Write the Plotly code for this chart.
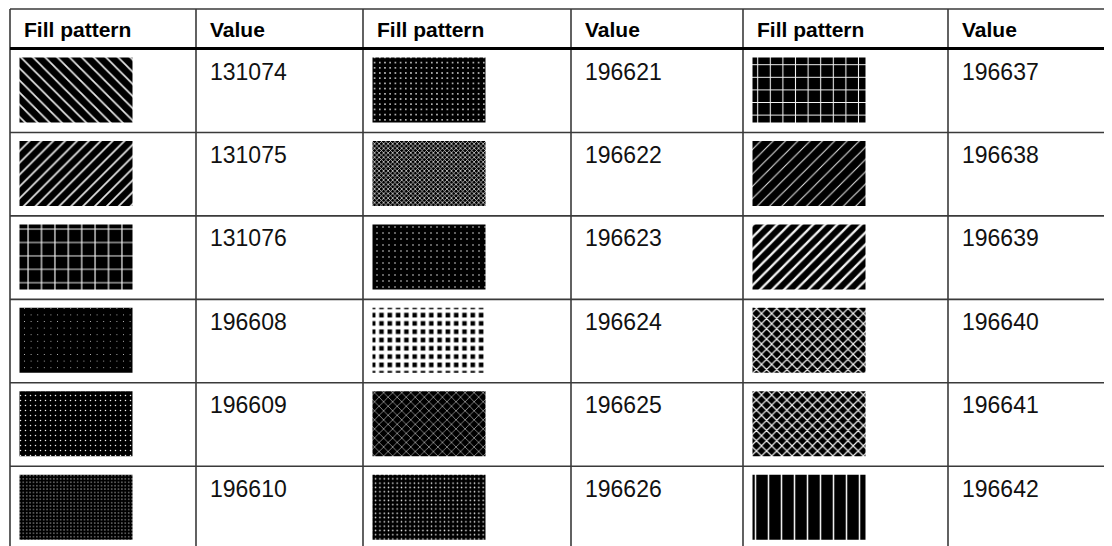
import plotly.graph_objects as go

# ---- data ----
header_pattern = "Fill pattern"
header_value = "Value"
values_group1 = [131074, 131075, 131076, 196608, 196609, 196610]
values_group2 = [196621, 196622, 196623, 196624, 196625, 196626]
values_group3 = [196637, 196638, 196639, 196640, 196641, 196642]
groups = [values_group1, values_group2, values_group3]

# ---- styles (pattern swatch appearance per value: shape, size, solidity, fg colour) ----
pattern_styles = {
    131074: ("\\", 8.6, 0.20, "#e6e6e6"),
    131075: ("/", 8.4, 0.20, "#e6e6e6"),
    131076: ("+", 13.4, 0.17, "#f2f2f2"),
    196608: (".", 6.6, 0.02, "#d0d0d0"),
    196609: (".", 5.0, 0.07, "#f0f0f0"),
    196610: (".", 3.4, 0.10, "#e0e0e0"),
    196621: (".", 5.2, 0.08, "#f0f0f0"),
    196622: ("x", 3.2, 0.40, "#e8e8e8"),
    196623: (".", 6.0, 0.05, "#f0f0f0"),
    196624: ("+", 8.3, 0.70, "white"),
    196625: ("x", 6.4, 0.16, "#e8e8e8"),
    196626: (".", 4.3, 0.10, "#f0f0f0"),
    196637: ("+", 12.6, 0.16, "#f2f2f2"),
    196638: ("/", 8.7, 0.12, "#e6e6e6"),
    196639: ("/", 8.5, 0.28, "#f0f0f0"),
    196640: ("x", 7.2, 0.30, "#f0f0f0"),
    196641: ("x", 7.2, 0.30, "#f0f0f0"),
    196642: ("|", 13.0, 0.12, "#eeeeee"),
}

# ---- layout geometry (pixels, in screenshot coordinates) ----
W, H = 1112, 546
PAGE_OFFSET = 8  # default body margin of the html page
col_edges = [10, 196, 363, 571, 743, 948, 1106]
table_top = 9
header_bottom = 49.0
row_h = 83.45
n_rows = 6
swatch_w, swatch_h = 113, 65
swatch_pad_x, swatch_pad_y = 9.5, 8.5
text_pad_x = 11.5

fig = go.Figure()

# swatches as patterned bars
for g, vals in enumerate(groups):
    left = col_edges[2 * g]
    for r, v in enumerate(vals):
        shape, size, sol, fg = pattern_styles[v]
        top = header_bottom + r * row_h + swatch_pad_y
        fig.add_trace(go.Bar(
            x=[left + swatch_pad_x + swatch_w / 2],
            y=[swatch_h],
            base=[top],
            width=[swatch_w],
            marker=dict(
                color="black",
                line=dict(width=0),
                pattern=dict(shape=shape, size=size, solidity=sol,
                             bgcolor="black", fgcolor=fg, fgopacity=1,
                             fillmode="replace"),
            ),
            hoverinfo="skip",
            showlegend=False,
        ))

annotations = []
head_font = dict(family="Liberation Sans", size=21, color="black", weight="bold")
val_font = dict(family="Liberation Sans", size=23, color="#111111")
# headers
for g in range(3):
    annotations.append(dict(x=col_edges[2 * g] + text_pad_x + 0.5, y=29.5, text=header_pattern,
                            xanchor="left", yanchor="middle", showarrow=False, font=head_font))
    annotations.append(dict(x=col_edges[2 * g + 1] + text_pad_x, y=29.5, text=header_value,
                            xanchor="left", yanchor="middle", showarrow=False, font=head_font))
# values
for g, vals in enumerate(groups):
    for r, v in enumerate(vals):
        annotations.append(dict(x=col_edges[2 * g + 1] + text_pad_x, y=header_bottom + r * row_h + 22.5,
                                text=str(v), xanchor="left", yanchor="middle", showarrow=False,
                                font=val_font))

shapes = []
line_col = "#3a3a3a"
for xe in col_edges:
    shapes.append(dict(type="line", x0=xe, x1=xe, y0=table_top, y1=H + 5, xref="x", yref="y",
                       line=dict(color=line_col, width=1.6)))
shapes.append(dict(type="line", x0=col_edges[0], x1=col_edges[-1], y0=table_top, y1=table_top,
                   xref="x", yref="y", line=dict(color=line_col, width=1.6)))
shapes.append(dict(type="line", x0=col_edges[0], x1=col_edges[-1], y0=header_bottom - 0.5, y1=header_bottom - 0.5,
                   xref="x", yref="y", line=dict(color="black", width=3)))
for r in range(1, n_rows):
    yy = header_bottom + r * row_h
    shapes.append(dict(type="line", x0=col_edges[0], x1=col_edges[-1], y0=yy, y1=yy,
                       xref="x", yref="y", line=dict(color=line_col, width=1.6)))

fig.update_layout(
    width=W, height=H,
    margin=dict(l=0, r=0, t=0, b=0),
    paper_bgcolor="white", plot_bgcolor="white",
    barmode="overlay",
    xaxis=dict(range=[PAGE_OFFSET, W + PAGE_OFFSET], visible=False, fixedrange=True),
    yaxis=dict(range=[H + PAGE_OFFSET, PAGE_OFFSET], visible=False, fixedrange=True),
    shapes=shapes,
    annotations=annotations,
    showlegend=False,
)

fig.write_html("out.html", config={"displayModeBar": False})
